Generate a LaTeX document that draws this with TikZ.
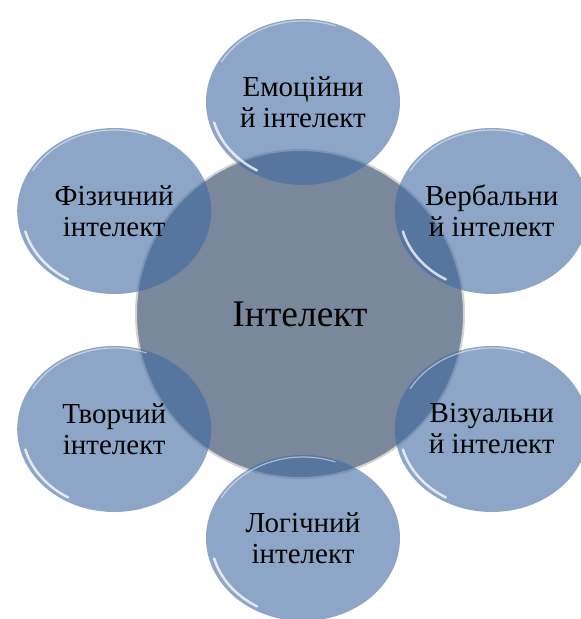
\documentclass[tikz,border=0pt]{standalone}
\usepackage{fontspec}
\setmainfont{Liberation Serif}
\usetikzlibrary{shapes.geometric,positioning}
\definecolor{ctBub}{RGB}{65,107,162}
\definecolor{ctHub}{RGB}{122,136,155}

\begin{document}
\begin{tikzpicture}[x=100pt,y=100pt,
  bubble/.style={ellipse,fill=ctBub,fill opacity=0.6,text opacity=1,inner sep=0pt,
    minimum width=194pt,minimum height=166pt,align=center,font=\fontsize{29}{31}\selectfont},
  hub/.style={circle,fill=ctHub,draw=gray!35,line width=2pt,inner sep=0pt,
    minimum size=328pt,font=\fontsize{37.5}{40}\selectfont}]
  \useasboundingbox (-3.03,-2.99) rectangle (2.78,3.20);
  \node[hub] (hub) at (-0.03,0.06) {Інтелект};
  \foreach \a/\n/\t in {90/emo/Емоційни\\й інтелект,30/verb/Вербальни\\й інтелект,
      -30/viz/Візуальни\\й інтелект,-90/logic/Логічний\\інтелект,
      -150/tvor/Творчий\\інтелект,150/fiz/Фізичний\\інтелект}{
    \node[bubble] (\n) at (\a:2.18) {\t};
    % glossy rims
    \draw[white,opacity=.75,line width=2.5pt,line cap=round] (\n.center) ++(195:0.92 and 0.79)
      arc[start angle=195,end angle=240,x radius=0.92,y radius=0.79];
    \draw[white,opacity=.5,line width=1.2pt,line cap=round] (\n.center) ++(70:0.94 and 0.81)
      arc[start angle=70,end angle=150,x radius=0.94,y radius=0.81];
  }
\end{tikzpicture}
\end{document}
